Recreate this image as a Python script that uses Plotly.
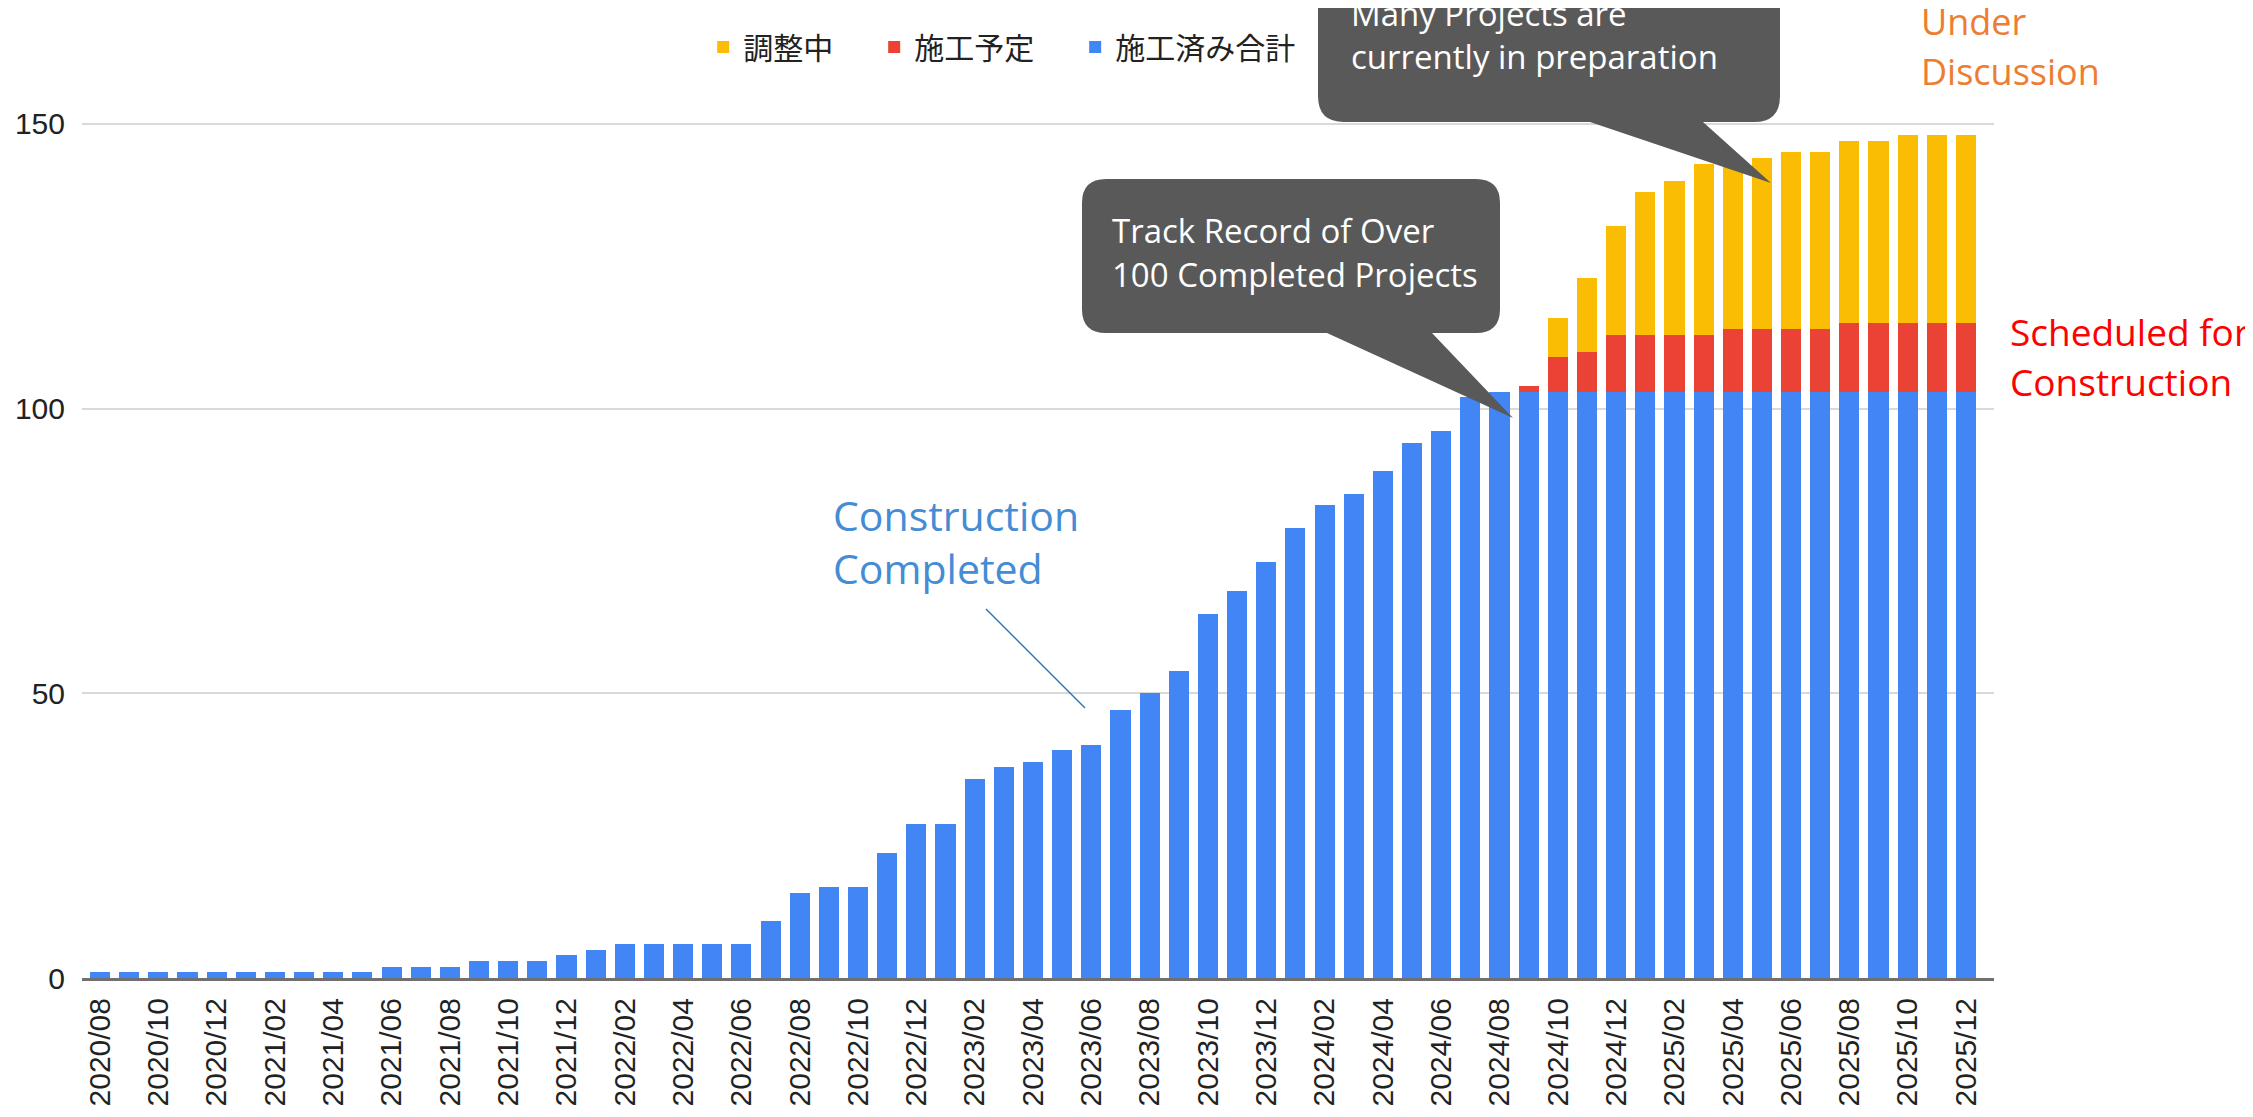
import plotly.graph_objects as go

# -------------------------
# DATA
# -------------------------
months = []
for year in range(2020, 2026):
    for m in range(1, 13):
        if (year, m) >= (2020, 8):
            months.append(f"{year}/{m:02d}")

tick_labels = months[::2]

done_total = [
    1, 1, 1, 1, 1, 1, 1, 1, 1, 1,          # 2020/08 - 2021/05
    2, 2, 2, 3, 3, 3, 4, 5,                # 2021/06 - 2022/01
    6, 6, 6, 6, 6, 10, 15, 16, 16, 22,     # 2022/02 - 2022/11
    27, 27, 35, 37, 38, 40, 41, 47, 50,    # 2022/12 - 2023/08
    54, 64, 68, 73, 79, 83, 85, 89, 94,    # 2023/09 - 2024/05
    96, 102, 103,                          # 2024/06 - 2024/08
    103, 103, 103, 103, 103, 103, 103, 103,
    103, 103, 103, 103, 103, 103, 103, 103,  # 2024/09 - 2025/12
]

scheduled = [0] * 49 + [
    1, 6, 7, 10, 10, 10, 10, 11, 11, 11, 11, 12, 12, 12, 12, 12,
]

adjusting = [0] * 50 + [
    7, 13, 19, 25, 27, 30, 30, 30, 31, 31, 32, 32, 33, 33, 33,
]

series_names = ["施工済み合計", "施工予定", "調整中"]
series_colors = ["#4285F4", "#EA4335", "#FBBC04"]
# extra space after the first two legend entries (em + thin space, not collapsed)
legend_pad = ["", "\u2003\u2009", "\u2003\u2009"]

# -------------------------
# LAYOUT HELPERS (screen pixel -> paper)
# -------------------------
OFF = 8  # default body margin of the html page
W, H = 2253 - OFF, 1117 - OFF
L, R, T, B = 82, 1994, 67, 978  # plot area in screen pixels


def px(x):
    return (x - L) / (R - L)


def py(y):
    return (B - y) / (B - T)


def callout_path(x0, y0, x1, y1, r, base_l, base_r, tip):
    tx, ty = tip
    segs = [
        ("M", [(x0 + r, y0)]),
        ("L", [(x1 - r, y0)]),
        ("Q", [(x1, y0), (x1, y0 + r)]),
        ("L", [(x1, y1 - r)]),
        ("Q", [(x1, y1), (x1 - r, y1)]),
        ("L", [(base_r, y1)]),
        ("L", [(tx, ty)]),
        ("L", [(base_l, y1)]),
        ("L", [(x0 + r, y1)]),
        ("Q", [(x0, y1), (x0, y1 - r)]),
        ("L", [(x0, y0 + r)]),
        ("Q", [(x0, y0), (x0 + r, y0)]),
    ]
    parts = []
    for cmd, pts in segs:
        parts.append(cmd + " " + " ".join(f"{px(a):.5f},{py(b):.5f}" for a, b in pts))
    return " ".join(parts) + " Z"


# -------------------------
# FIGURE
# -------------------------
fig = go.Figure()
for name, pad, vals, color in zip(series_names, legend_pad,
                                  [done_total, scheduled, adjusting], series_colors):
    fig.add_trace(go.Bar(
        x=months,
        y=vals,
        name=name + pad,
        marker=dict(color=color, line=dict(width=0)),
    ))

fig.update_layout(
    width=W,
    height=H,
    barmode="stack",
    bargap=0.31,
    paper_bgcolor="white",
    plot_bgcolor="white",
    margin=dict(l=L - OFF, r=W - (R - OFF), t=T - OFF, b=H - (B - OFF),
                pad=0, autoexpand=False),
    font=dict(family="Liberation Sans, Arial", size=30, color="#222222"),
    legend=dict(
        orientation="h",
        traceorder="reversed",
        x=0.481,
        xanchor="center",
        y=py(47),
        yanchor="middle",
        font=dict(family="Noto Sans CJK JP", size=30, color="#222222"),
        itemwidth=30,
    ),
    showlegend=True,
)

fig.update_xaxes(
    type="category",
    range=[-0.617, 64.96],
    tickmode="array",
    tickvals=tick_labels,
    ticktext=tick_labels,
    tickangle=-90,
    ticks="",
    ticklabelstandoff=5,
    showgrid=False,
    showline=True,
    linecolor="#707070",
    linewidth=3,
    automargin=False,
    tickfont=dict(size=30, color="#222222"),
)

fig.update_yaxes(
    range=[0, 160],
    tickvals=[0, 50, 100, 150],
    showgrid=True,
    gridcolor="#D9D9D9",
    gridwidth=2,
    zeroline=False,
    ticks="",
    ticklabelstandoff=16,
    automargin=False,
    tickfont=dict(size=30, color="#222222"),
)

# callout boxes
box_color = "#595959"
fig.add_shape(
    type="path", xref="paper", yref="paper", layer="above",
    path=callout_path(1082, 179, 1500, 333, 24, 1327, 1432, (1513, 418)),
    fillcolor=box_color, line=dict(width=0),
)
fig.add_shape(
    type="path", xref="paper", yref="paper", layer="above",
    path=callout_path(1318, -40, 1780, 122, 26, 1590, 1703, (1771, 183)),
    fillcolor=box_color, line=dict(width=0),
)

# pointer line for "Construction Completed"
fig.add_shape(
    type="line", xref="paper", yref="paper", layer="above",
    x0=px(986), y0=py(609), x1=px(1085), y1=py(708),
    line=dict(color="#2E75B6", width=1.5),
)


def add_text(text, x, y_center, size, color):
    fig.add_annotation(
        text=text, xref="paper", yref="paper",
        x=px(x), y=py(y_center), xanchor="left", yanchor="middle",
        showarrow=False, align="left",
        font=dict(family="Open Sans", size=size, color=color),
    )


# callout texts
add_text("Track Record of Over", 1110, 231, 33, "white")
add_text("100 Completed Projects", 1110, 274, 33, "white")
add_text("Many Projects are", 1349, 14, 33, "white")
add_text("currently in preparation", 1349, 56, 33, "white")

# side labels
add_text("Under", 1919, 22, 36, "#ED7D31")
add_text("Discussion", 1919, 72, 36, "#ED7D31")
add_text("Scheduled for", 2008, 331, 37, "#FF0000")
add_text("Construction", 2008, 382, 37, "#FF0000")
add_text("Construction", 831, 515, 41, "#448CD4")
add_text("Completed", 831, 568, 41, "#448CD4")

fig.write_html("out.html")
